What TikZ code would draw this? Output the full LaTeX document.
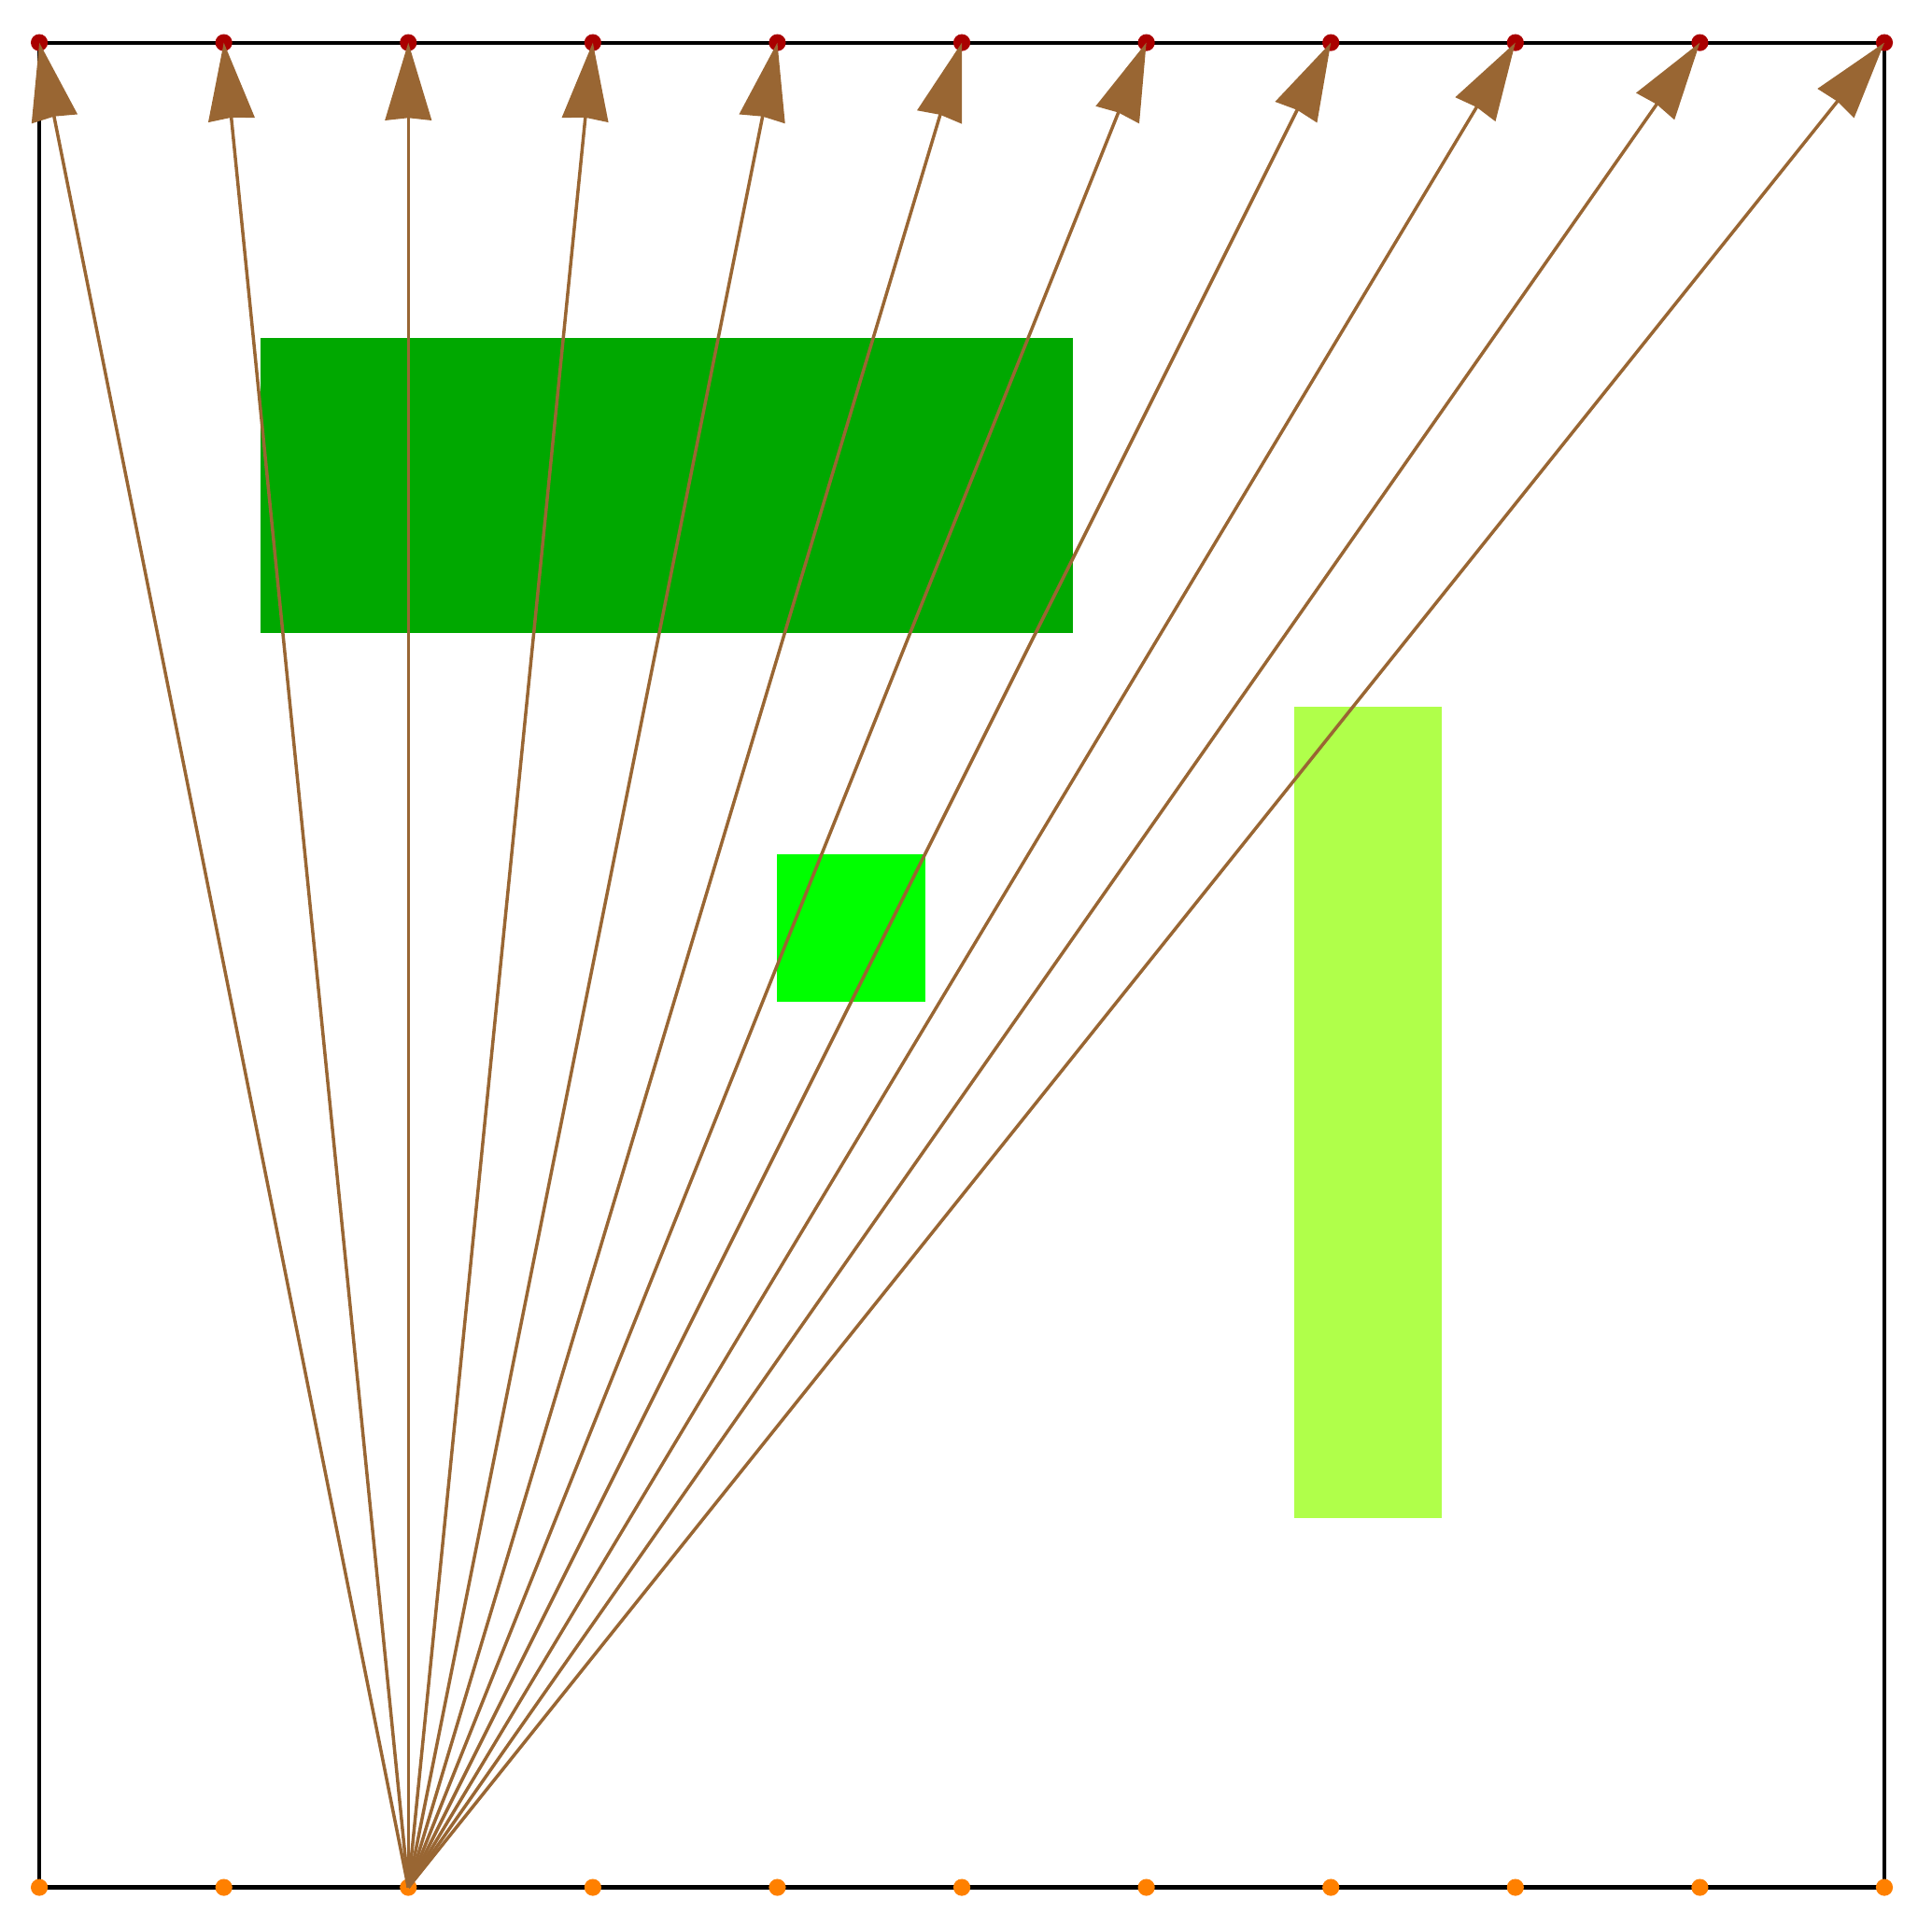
\documentclass[tikz,border=0pt]{standalone}
\usetikzlibrary{arrows.meta}
\definecolor{darkgrn}{RGB}{0,168,0}
\definecolor{brightgrn}{RGB}{0,255,0}
\definecolor{yelgrn}{RGB}{176,255,74}
\definecolor{arrowbrown}{RGB}{153,102,51}
\definecolor{dotred}{RGB}{170,0,0}
\definecolor{dotorange}{RGB}{255,128,0}
\tikzset{
  frameline/.style={draw=black, line width=0.6pt},
  topdot/.style={circle, fill=dotred, inner sep=0pt, minimum size=0.092cm},
  botdot/.style={circle, fill=dotorange, inner sep=0pt, minimum size=0.092cm},
  ray/.style={draw=arrowbrown, line width=0.5pt,
    -{Stealth[length=0.42cm, width=0.25cm, inset=0.012cm, fill=arrowbrown]}},
}
\begin{document}
\begin{tikzpicture}
\useasboundingbox (-0.213,-0.2125) rectangle (10.258,10.231);
\draw[frameline] (0,0) rectangle (10,10);
\fill[darkgrn] (1.2,6.8) rectangle (5.6,8.4);
\fill[brightgrn] (4,4.8) rectangle (4.8,5.6);
\fill[yelgrn] (6.8,2) rectangle (7.6,6.4);
\foreach \i in {0,...,10} {
  \node[topdot] (t\i) at (\i,10) {};
  \node[botdot] (b\i) at (\i,0) {};
}
\foreach \i in {0,...,10} {
  \draw[ray] (b2.center) -- (t\i.center);
}
\end{tikzpicture}
\end{document}
